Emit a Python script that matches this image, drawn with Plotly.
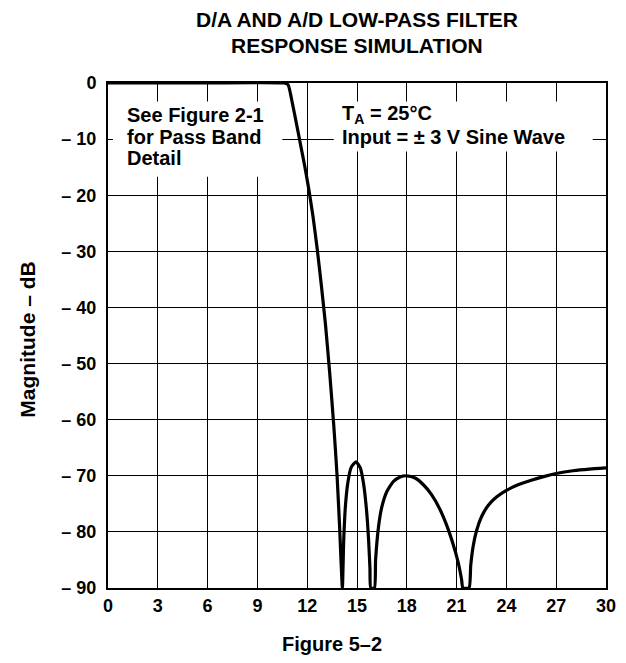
import plotly.graph_objects as go

# Frequency (kHz) and magnitude (dB)
freq = [0, 5.0, 10.6, 10.85, 11.1, 11.35, 11.6, 11.85, 12.1, 12.35, 12.6, 12.85, 13.1, 13.35, 13.6, 13.8, 13.95, 14.05, 14.12,
        14.2, 14.3, 14.45, 14.65, 14.94, 15.2, 15.4, 15.57, 15.7, 15.78, 15.83,
        16.05, 16.12, 16.3, 16.5, 16.8, 17.2, 17.6, 18.0, 18.5, 19.0, 19.5, 20.0, 20.4, 20.8, 21.1, 21.3, 21.38,
        21.75, 21.85, 22.0, 22.2, 22.5, 22.9, 23.4, 24.0, 24.7, 25.5, 26.3, 27.0, 28.0, 29.0, 30.0]
mag = [0, 0, 0, -0.3, -3.5, -7.2, -11, -14.8, -19, -23.8, -29.5, -36, -43, -51.5, -61, -70, -79, -86, -90,
       -81.5, -75.5, -71.2, -68.5, -67.5, -68.6, -71.5, -76, -81.5, -86.5, -90,
       -90, -85, -79, -75.5, -72.8, -71, -70.2, -70, -70.4, -71.6, -73.4, -76, -78.8, -82.3, -85.5, -88.5, -90,
       -90, -86, -82.5, -79.8, -77.3, -75.3, -73.8, -72.6, -71.6, -70.8, -70.1, -69.6, -69.1, -68.8, -68.6]

x_ticks = [0, 3, 6, 9, 12, 15, 18, 21, 24, 27, 30]
y_ticks = [0, -10, -20, -30, -40, -50, -60, -70, -80, -90]
y_ticktext = ["0"] + ["\u2013 " + str(-v) for v in y_ticks[1:]]

title_lines = ["D/A AND A/D LOW-PASS FILTER", "RESPONSE SIMULATION"]
left_note = ["See Figure 2-1", "for Pass Band", "Detail"]
right_note = ["T<sub>A</sub> = 25\u00b0C", "Input = \u00b1 3 V Sine Wave"]
note_y = [-5.7, -9.6, -13.4]

FONT = "Arial, Liberation Sans, Helvetica, sans-serif"

fig = go.Figure()
fig.add_trace(go.Scatter(x=freq, y=mag, mode="lines",
                         line=dict(color="black", width=3.2, shape="spline", smoothing=0.5),
                         hoverinfo="skip", showlegend=False))

axis_common = dict(showline=True, linecolor="black", linewidth=2, mirror=True,
                   showgrid=True, gridcolor="black", gridwidth=1, zeroline=False,
                   ticks="", tickfont=dict(family=FONT, size=18, color="black", weight="bold"))

fig.update_xaxes(range=[0, 30], tickvals=x_ticks, ticktext=[str(v) for v in x_ticks], **axis_common)
fig.update_yaxes(range=[-90, 0], tickvals=y_ticks, ticktext=y_ticktext,
                 ticklabelstandoff=6, **axis_common)

# white boxes behind the notes (cover grid, under curve)
fig.add_shape(type="rect", x0=0.3, x1=10.5, y0=-16.7, y1=-3.3, xref="x", yref="y",
              fillcolor="white", line=dict(width=0), layer="between")
fig.add_shape(type="rect", x0=13.6, x1=29.2, y0=-12.2, y1=-3.3, xref="x", yref="y",
              fillcolor="white", line=dict(width=0), layer="between")

anns = []
for txt, yy in zip(left_note, note_y):
    anns.append(dict(x=1.05, y=yy, xref="x", yref="y", text=txt, showarrow=False,
                     xanchor="left", yanchor="middle",
                     font=dict(family=FONT, size=20, color="black", weight="bold")))
for txt, yy in zip(right_note, note_y):
    anns.append(dict(x=13.95, y=yy, xref="x", yref="y", text=txt, showarrow=False,
                     xanchor="left", yanchor="middle",
                     font=dict(family=FONT, size=20, color="black", weight="bold")))
# page pixel positions (the page has an 8px body margin): plot spans x 108..616, y 83..588
for txt, py in zip(title_lines, [19, 46]):
    anns.append(dict(x=0.5, y=(588 - py) / 505, xref="paper", yref="paper", text=txt,
                     showarrow=False, xanchor="center", yanchor="middle",
                     font=dict(family=FONT, size=21, color="black", weight="bold")))
anns.append(dict(x=(336 - 108) / 508, y=(588 - 644) / 505, xref="paper", yref="paper",
                 text="Figure 5\u20132", showarrow=False, xanchor="center", yanchor="middle",
                 font=dict(family=FONT, size=20, color="black", weight="bold")))
anns.append(dict(x=(25 - 108) / 508, y=(588 - 340) / 505, xref="paper", yref="paper",
                 text="Magnitude \u2013 dB", textangle=-90, showarrow=False,
                 xanchor="center", yanchor="middle",
                 font=dict(family=FONT, size=21, color="black", weight="bold")))

fig.update_layout(width=618, height=655, margin=dict(l=100, r=10, t=75, b=75),
                  paper_bgcolor="white", plot_bgcolor="white", annotations=anns)

fig.write_html("out.html")
